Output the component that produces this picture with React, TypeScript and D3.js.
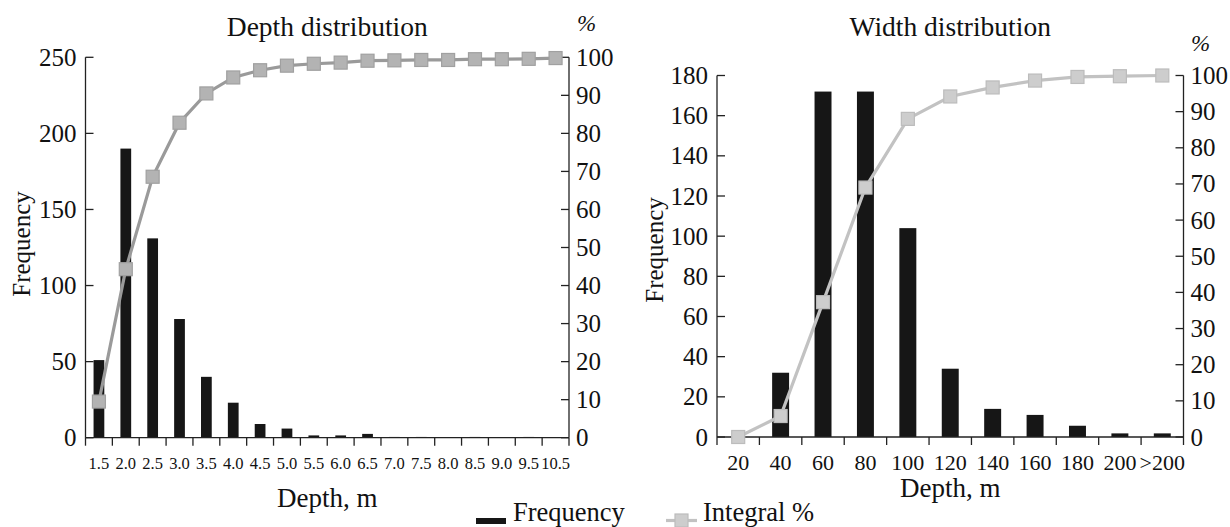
import React from "react";
import * as d3 from "d3";

const depthCats = ["1.5","2.0","2.5","3.0","3.5","4.0","4.5","5.0","5.5","6.0","6.5","7.0","7.5","8.0","8.5","9.0","9.5","10.5"];
const depthFreq = [51,190,131,78,40,23,9,6,1.5,1.5,2.5,0.5,0.5,0,0.5,0,0.5,0];
const depthIntegral = [9.5,44.3,68.6,82.8,90.5,94.7,96.6,97.8,98.3,98.6,99.1,99.2,99.3,99.3,99.5,99.5,99.6,99.8];
const depthFreqTicks = [0,50,100,150,200,250];

const widthCats = ["20","40","60","80","100","120","140","160","180","200",">200"];
const widthFreq = [0,32,172,172,104,34,14,11,5.6,1.8,1.8];
const widthIntegral = [0,5.8,37.3,69,88,94.2,96.7,98.6,99.6,99.8,100];
const widthFreqTicks = [0,20,40,60,80,100,120,140,160,180];

const pctTicks = [0,10,20,30,40,50,60,70,80,90,100];

const FONT = "'Liberation Serif', 'Times New Roman', serif";

type PanelProps = {
  cats: string[]; freq: number[]; integral: number[]; freqTicks: number[];
  freqMax: number; x0: number; x1: number; yTop: number; yBot: number;
  title: string; titleY: number; xLabelSize: number; xLabelY: number; xTitleY: number;
  yTitleX: number; yTitleY: number; pctX: number; pctY: number;
  lineColor: string; sqFill: string; sqStroke: string;
};

function Panel(p: PanelProps) {
  const x = d3.scaleBand<string>().domain(p.cats).range([p.x0, p.x1]).padding(0);
  const bw = x.bandwidth();
  const yF = d3.scaleLinear().domain([0, p.freqMax]).range([p.yBot, p.yTop]);
  const yP = d3.scaleLinear().domain([0, 100]).range([p.yBot, p.yTop]);
  const line = d3.line<number>().x((_, i) => (x(p.cats[i]) as number) + bw / 2).y((v) => yP(v));
  const axisColor = "#222";
  const sq = 13;
  const ticksX = [...p.cats.map((c) => x(c) as number), p.x1];
  return (
    <g fontFamily={FONT} fill="#111">
      <text x={(p.x0 + p.x1) / 2} y={p.titleY} textAnchor="middle" fontSize={27.5}>{p.title}</text>
      <text x={p.pctX} y={p.pctY} fontSize={23} fontStyle="italic">%</text>
      {p.freq.map((v, i) => (
        <rect key={i} x={(x(p.cats[i]) as number) + bw * 0.3} width={bw * 0.4} y={yF(v)} height={p.yBot - yF(v)} fill="#161616" />
      ))}
      <line x1={p.x0} x2={p.x0} y1={p.yTop} y2={p.yBot} stroke={axisColor} strokeWidth={1.3} />
      <line x1={p.x1} x2={p.x1} y1={p.yTop} y2={p.yBot} stroke={axisColor} strokeWidth={1.3} />
      <line x1={p.x0} x2={p.x1} y1={p.yBot} y2={p.yBot} stroke={axisColor} strokeWidth={1.3} />
      {p.freqTicks.map((t) => (
        <g key={"f" + t}>
          <line x1={p.x0} x2={p.x0 + 8} y1={yF(t)} y2={yF(t)} stroke={axisColor} strokeWidth={1.3} />
          <text x={p.x0 - 9} y={yF(t)} dy="0.34em" textAnchor="end" fontSize={25}>{t}</text>
        </g>
      ))}
      {pctTicks.map((t) => (
        <g key={"p" + t}>
          <line x1={p.x1 - 8} x2={p.x1} y1={yP(t)} y2={yP(t)} stroke={axisColor} strokeWidth={1.3} />
          <text x={p.x1 + 7} y={yP(t)} dy="0.34em" textAnchor="start" fontSize={25}>{t}</text>
        </g>
      ))}
      {ticksX.map((tx, i) => (
        <line key={"x" + i} x1={tx} x2={tx} y1={p.yBot} y2={p.yBot + 8} stroke={axisColor} strokeWidth={1.3} />
      ))}
      {p.cats.map((c) => (
        <text key={"l" + c} x={(x(c) as number) + bw / 2} y={p.xLabelY} textAnchor="middle" fontSize={p.xLabelSize}>{c}</text>
      ))}
      <text x={(p.x0 + p.x1) / 2} y={p.xTitleY} textAnchor="middle" fontSize={27}>Depth, m</text>
      <text transform={`translate(${p.yTitleX},${p.yTitleY}) rotate(-90)`} textAnchor="middle" fontSize={25}>Frequency</text>
      <path d={line(p.integral) || ""} fill="none" stroke={p.lineColor} strokeWidth={3.2} />
      {p.integral.map((v, i) => (
        <rect key={"s" + i} x={(x(p.cats[i]) as number) + bw / 2 - sq / 2} y={yP(v) - sq / 2} width={sq} height={sq}
          fill={p.sqFill} stroke={p.sqStroke} strokeWidth={1.2} />
      ))}
    </g>
  );
}

export default function App() {
  return (
    <svg width={1230} height={527} style={{ position: "absolute", left: 0, top: 0, background: "#fff" }}>
      <Panel cats={depthCats} freq={depthFreq} integral={depthIntegral} freqTicks={depthFreqTicks} freqMax={250}
        x0={85.5} x1={569} yTop={57.3} yBot={437.7} title="Depth distribution" titleY={36}
        xLabelSize={16.5} xLabelY={469} xTitleY={507} yTitleX={30} yTitleY={244} pctX={577} pctY={31}
        lineColor="#9a9a9a" sqFill="#b3b3b3" sqStroke="#a0a0a0" />
      <Panel cats={widthCats} freq={widthFreq} integral={widthIntegral} freqTicks={widthFreqTicks} freqMax={180}
        x0={717} x1={1183.5} yTop={75.5} yBot={437} title="Width distribution" titleY={36}
        xLabelSize={22} xLabelY={470} xTitleY={497} yTitleX={663} yTitleY={250} pctX={1191} pctY={51}
        lineColor="#c2c2c2" sqFill="#cdcdcd" sqStroke="#bcbcbc" />
      <g fontFamily={FONT} fill="#111">
        <rect x={476} y={518} width={30} height={6} fill="#161616" />
        <text x={513} y={520.5} fontSize={26.5}>Frequency</text>
        <line x1={666} x2={697} y1={520.5} y2={520.5} stroke="#c2c2c2" strokeWidth={3.2} />
        <rect x={675} y={514} width={13} height={13} fill="#cdcdcd" stroke="#bcbcbc" strokeWidth={1.2} />
        <text x={703} y={520.5} fontSize={26.5}>Integral %</text>
      </g>
    </svg>
  );
}
